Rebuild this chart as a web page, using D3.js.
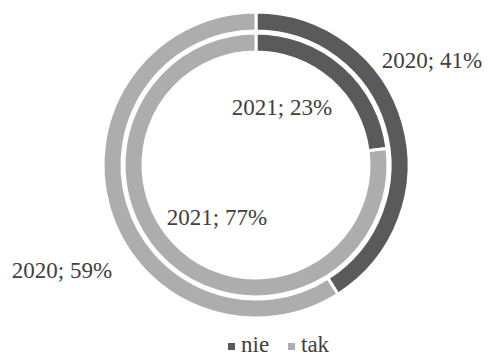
<!DOCTYPE html>
<html>
<head>
<meta charset="utf-8">
<script src="https://cdn.jsdelivr.net/npm/d3@7"></script>
<style>
  html, body { margin: 0; padding: 0; background: #fff; }
  svg text { font-family: "Liberation Serif", "Times New Roman", serif; fill: #404040; }
</style>
</head>
<body>
<svg id="chart" width="488" height="358"></svg>
<script>
// Answer categories and ring values (percent)
const categories = ["nie", "tak"];
const years = ["2020", "2021"];
const values2020 = [41, 59];
const values2021 = [23, 77];

const colors = d3.scaleOrdinal().domain(categories).range(["#5a5a5a", "#adadad"]);

const svg = d3.select("#chart");
const cx = 256, cy = 165;
const g = svg.append("g").attr("transform", `translate(${cx},${cy})`);

const pie = d3.pie().sort(null).value(d => d.value);

// outer ring = 2020, inner ring = 2021
const rings = [
  { year: years[0], values: values2020, outer: 153, inner: 134 },
  { year: years[1], values: values2021, outer: 132, inner: 113 }
];

rings.forEach(ring => {
  const data = categories.map((c, i) => ({ cat: c, value: ring.values[i], year: ring.year }));
  const arc = d3.arc().innerRadius(ring.inner).outerRadius(ring.outer);
  g.selectAll(null)
    .data(pie(data))
    .enter().append("path")
    .attr("d", arc)
    .attr("fill", d => colors(d.data.cat))
    .attr("stroke", "#fff")
    .attr("stroke-width", 3);
});

// data labels, offsets from the chart centre
const labelLayout = [
  { ring: 0, cat: 0, dx: 176, dy: -97 },
  { ring: 1, cat: 0, dx: 26, dy: -50 },
  { ring: 1, cat: 1, dx: -39, dy: 60 },
  { ring: 0, cat: 1, dx: -194, dy: 113 }
];
labelLayout.forEach(l => {
  const ring = rings[l.ring];
  g.append("text")
    .attr("x", l.dx)
    .attr("y", l.dy)
    .attr("text-anchor", "middle")
    .attr("font-size", 23)
    .text(`${ring.year}; ${ring.values[l.cat]}%`);
});

// legend
const legend = svg.append("g").attr("transform", "translate(228,352)");
const legendItems = [
  { cat: categories[0], x: 0 },
  { cat: categories[1], x: 60 }
];
legendItems.forEach(it => {
  legend.append("rect")
    .attr("x", it.x).attr("y", -9)
    .attr("width", 7).attr("height", 7)
    .attr("fill", colors(it.cat));
  legend.append("text")
    .attr("x", it.x + 13).attr("y", 0)
    .attr("font-size", 23)
    .text(it.cat);
});
</script>
</body>
</html>
